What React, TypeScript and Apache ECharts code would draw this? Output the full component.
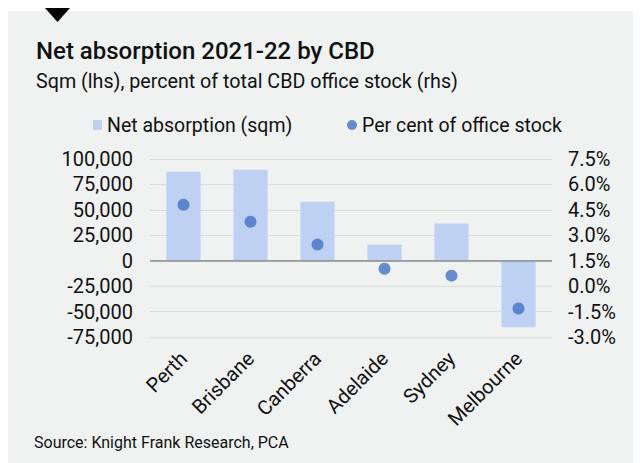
import React, { useEffect, useRef } from "react";
import * as echarts from "echarts";

const categories = ["Perth", "Brisbane", "Canberra", "Adelaide", "Sydney", "Melbourne"];
const netAbsorption = [87500, 89500, 58000, 15800, 36500, -65500];
const percentOfStock = [4.8, 3.8, 2.45, 1.03, 0.62, -1.32];
const leftTicks = { min: -75000, max: 100000, interval: 25000 };
const rightTicks = { min: -3, max: 7.5, interval: 1.5 };

const titleText = "Net absorption 2021-22 by CBD";
const subtitleText = "Sqm (lhs), percent of total CBD office stock (rhs)";
const sourceText = "Source: Knight Frank Research, PCA";
const barName = "Net absorption (sqm)";
const dotName = "Per cent of office stock";

const FONT = "Roboto, 'Liberation Sans', Arial, sans-serif";

export default function App() {
  const ref = useRef<HTMLDivElement>(null);
  useEffect(() => {
    if (!ref.current) return;
    const chart = echarts.init(ref.current, undefined, { renderer: "svg" });
    const legendText = { fontSize: 19.5, color: "#111111", fontFamily: FONT };
    chart.setOption({
      animation: false,
      backgroundColor: "transparent",
      textStyle: { fontFamily: FONT },
      graphic: [
        {
          type: "rect",
          z: -10,
          silent: true,
          shape: { x: 0, y: 3, width: 633, height: 452 },
          style: { fill: "#eff2f1" },
        },
        {
          type: "polygon",
          silent: true,
          shape: { points: [[37, 0], [62, 0], [49.5, 14]] },
          style: { fill: "#000000" },
        },
        {
          type: "text",
          left: 28,
          top: 31,
          style: { text: titleText, fontSize: 24, fontWeight: 500, fill: "#111111", fontFamily: FONT },
        },
        {
          type: "text",
          left: 28,
          top: 63,
          style: { text: subtitleText, fontSize: 19.7, fill: "#111111", fontFamily: FONT },
        },
        {
          type: "text",
          left: 26,
          top: 426,
          style: { text: sourceText, fontSize: 16, fill: "#111111", fontFamily: FONT },
        },
      ],
      legend: [
        {
          left: 80,
          top: 102,
          itemWidth: 9,
          itemHeight: 10,
          textStyle: legendText,
          data: [{ name: barName, icon: "rect" }],
        },
        {
          left: 334,
          top: 102,
          itemWidth: 10,
          itemHeight: 10,
          textStyle: legendText,
          data: [{ name: dotName, icon: "circle" }],
        },
      ],
      grid: { left: 142, right: 89, top: 151, bottom: 126, containLabel: false },
      xAxis: {
        type: "category",
        data: categories,
        axisLine: { show: false, onZero: false },
        axisTick: { show: false },
        axisLabel: {
          rotate: 45,
          margin: 18,
          fontSize: 20,
          color: "#111111",
          interval: 0,
          fontFamily: FONT,
        },
      },
      yAxis: [
        {
          type: "value",
          min: leftTicks.min,
          max: leftTicks.max,
          interval: leftTicks.interval,
          axisLine: { show: false },
          axisTick: { show: false },
          splitLine: { lineStyle: { color: "#d8dcdb", width: 1 } },
          axisLabel: {
            margin: 17,
            fontSize: 20,
            color: "#111111",
            fontFamily: FONT,
            formatter: (v: number) => v.toLocaleString("en-US"),
          },
        },
        {
          type: "value",
          min: rightTicks.min,
          max: rightTicks.max,
          interval: rightTicks.interval,
          axisLine: { show: false },
          axisTick: { show: false },
          splitLine: { show: false },
          axisLabel: {
            margin: 16,
            fontSize: 20,
            color: "#111111",
            fontFamily: FONT,
            formatter: (v: number) => v.toFixed(1) + "%",
          },
        },
      ],
      series: [
        {
          name: barName,
          type: "bar",
          data: netAbsorption,
          barWidth: "51%",
          itemStyle: { color: "#bed1f3" },
          markLine: {
            silent: true,
            symbol: "none",
            label: { show: false },
            lineStyle: { color: "#8a8d8c", width: 1.5, type: "solid" },
            data: [{ yAxis: 0 }],
          },
        },
        {
          name: dotName,
          type: "scatter",
          yAxisIndex: 1,
          data: percentOfStock,
          symbolSize: 12,
          itemStyle: { color: "#4472c4" },
          z: 5,
        },
      ],
    });
    return () => chart.dispose();
  }, []);
  return <div ref={ref} style={{ width: 633, height: 455 }} />;
}
